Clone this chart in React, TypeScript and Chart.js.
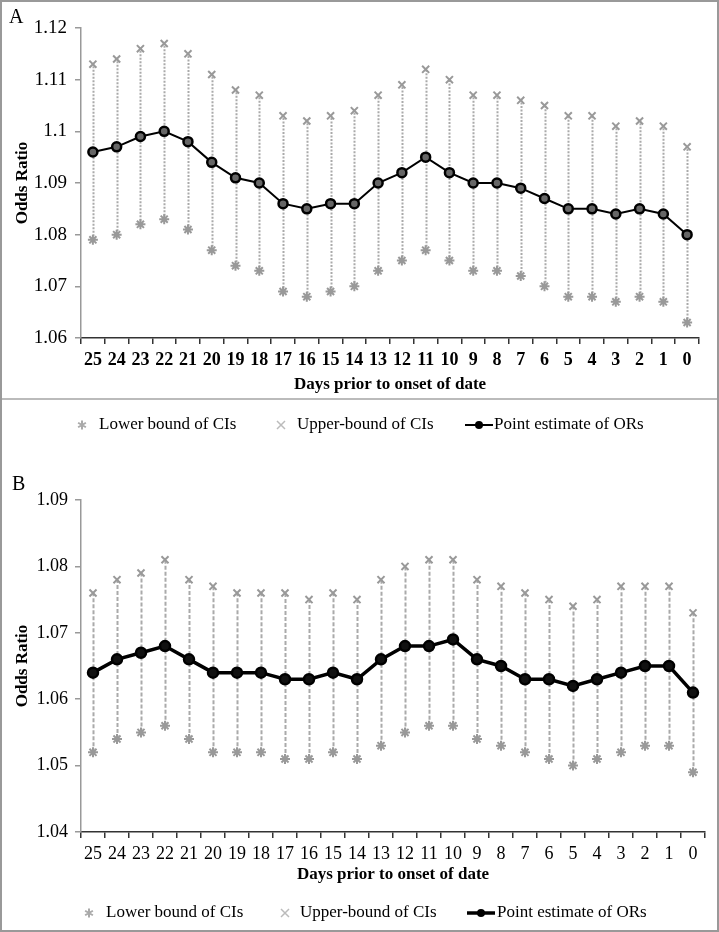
import React, { useEffect, useRef } from 'react';
import { Chart, registerables } from 'chart.js';

Chart.register(...registerables);

const days = ['25', '24', '23', '22', '21', '20', '19', '18', '17', '16', '15', '14', '13', '12', '11', '10', '9', '8', '7', '6', '5', '4', '3', '2', '1', '0'];

const upperA = [1.113, 1.114, 1.116, 1.117, 1.115, 1.111, 1.108, 1.107, 1.103, 1.102, 1.103, 1.104, 1.107, 1.109, 1.112, 1.110, 1.107, 1.107, 1.106, 1.105, 1.103, 1.103, 1.101, 1.102, 1.101, 1.097];
const pointA = [1.096, 1.097, 1.099, 1.100, 1.098, 1.094, 1.091, 1.090, 1.086, 1.085, 1.086, 1.086, 1.090, 1.092, 1.095, 1.092, 1.090, 1.090, 1.089, 1.087, 1.085, 1.085, 1.084, 1.085, 1.084, 1.080];
const lowerA = [1.079, 1.080, 1.082, 1.083, 1.081, 1.077, 1.074, 1.073, 1.069, 1.068, 1.069, 1.070, 1.073, 1.075, 1.077, 1.075, 1.073, 1.073, 1.072, 1.070, 1.068, 1.068, 1.067, 1.068, 1.067, 1.063];

const upperB = [1.076, 1.078, 1.079, 1.081, 1.078, 1.077, 1.076, 1.076, 1.076, 1.075, 1.076, 1.075, 1.078, 1.080, 1.081, 1.081, 1.078, 1.077, 1.076, 1.075, 1.074, 1.075, 1.077, 1.077, 1.077, 1.073];
const pointB = [1.064, 1.066, 1.067, 1.068, 1.066, 1.064, 1.064, 1.064, 1.063, 1.063, 1.064, 1.063, 1.066, 1.068, 1.068, 1.069, 1.066, 1.065, 1.063, 1.063, 1.062, 1.063, 1.064, 1.065, 1.065, 1.061];
const lowerB = [1.052, 1.054, 1.055, 1.056, 1.054, 1.052, 1.052, 1.052, 1.051, 1.051, 1.052, 1.051, 1.053, 1.055, 1.056, 1.056, 1.054, 1.053, 1.052, 1.051, 1.050, 1.051, 1.052, 1.053, 1.053, 1.049];

const yTicksA = [1.06, 1.07, 1.08, 1.09, 1.1, 1.11, 1.12];
const yTicksB = [1.04, 1.05, 1.06, 1.07, 1.08, 1.09];

const legendLabels = ['Lower bound of CIs', 'Upper-bound of CIs', 'Point estimate of ORs'];
const yTitle = 'Odds Ratio';
const xTitle = 'Days prior to onset of date';

const SERIF = '"Liberation Serif", "Times New Roman", serif';

const ciPlugin = {
  id: 'ci',
  beforeDatasetsDraw(chart: any, _args: any, opts: any) {
    const { ctx } = chart;
    const x = chart.scales.x;
    const y = chart.scales.y;
    const lo = chart.data.datasets[0].data as number[];
    const hi = chart.data.datasets[1].data as number[];
    ctx.save();
    ctx.strokeStyle = opts.color;
    ctx.lineWidth = opts.width;
    ctx.setLineDash(opts.dash);
    lo.forEach((l, i) => {
      const px = Math.round(x.getPixelForValue(i)) + 0.5;
      ctx.beginPath();
      ctx.moveTo(px, y.getPixelForValue(l));
      ctx.lineTo(px, y.getPixelForValue(hi[i]));
      ctx.stroke();
    });
    ctx.restore();
  },
};

function drawStar(ctx: CanvasRenderingContext2D, cx: number, cy: number, r: number) {
  ctx.beginPath();
  for (let k = 0; k < 3; k++) {
    const a = (Math.PI / 3) * k + Math.PI / 2;
    ctx.moveTo(cx + r * Math.cos(a), cy + r * Math.sin(a));
    ctx.lineTo(cx - r * Math.cos(a), cy - r * Math.sin(a));
  }
  ctx.stroke();
}

function drawCross(ctx: CanvasRenderingContext2D, cx: number, cy: number, r: number) {
  ctx.beginPath();
  ctx.moveTo(cx - r, cy - r);
  ctx.lineTo(cx + r, cy + r);
  ctx.moveTo(cx + r, cy - r);
  ctx.lineTo(cx - r, cy + r);
  ctx.stroke();
}

const decorPlugin = {
  id: 'decor',
  afterDraw(chart: any, _args: any, opts: any) {
    const { ctx } = chart;
    ctx.save();
    ctx.fillStyle = '#000';
    ctx.font = `20px ${SERIF}`;
    ctx.textBaseline = 'alphabetic';
    ctx.textAlign = 'left';
    ctx.fillText(opts.label, opts.labelX, opts.labelY);

    const ly = opts.legendY;
    const it = opts.items;
    ctx.font = `17px ${SERIF}`;
    ctx.textBaseline = 'middle';
    // lower
    ctx.strokeStyle = '#aaa';
    ctx.lineWidth = 2;
    drawStar(ctx, it[0].x, ly, 4.5);
    ctx.fillStyle = '#000';
    ctx.fillText(legendLabels[0], it[0].textX, ly);
    // upper
    ctx.strokeStyle = '#bbb';
    ctx.lineWidth = 1.5;
    drawCross(ctx, it[1].x, ly, 4);
    ctx.fillText(legendLabels[1], it[1].textX, ly);
    // point
    ctx.strokeStyle = '#000';
    ctx.lineWidth = opts.lineW;
    ctx.beginPath();
    ctx.moveTo(it[2].x1, ly);
    ctx.lineTo(it[2].x2, ly);
    ctx.stroke();
    ctx.beginPath();
    ctx.fillStyle = '#000';
    ctx.arc((it[2].x1 + it[2].x2) / 2, ly, 4, 0, Math.PI * 2);
    ctx.fill();
    ctx.fillText(legendLabels[2], it[2].textX, ly);
    ctx.restore();
  },
};

function fmt(v: any) {
  return String(+Number(v).toFixed(2));
}

function makeConfig(p: any) {
  return {
    type: 'line',
    data: {
      labels: days,
      datasets: [
        {
          label: legendLabels[0],
          data: p.lower,
          showLine: false,
          pointStyle: 'star',
          pointRadius: 5,
          borderColor: '#999',
          backgroundColor: '#999',
          pointBorderWidth: 2,
        },
        {
          label: legendLabels[1],
          data: p.upper,
          showLine: false,
          pointStyle: 'crossRot',
          pointRadius: 5,
          borderColor: '#999',
          backgroundColor: '#999',
          pointBorderWidth: 2,
        },
        {
          label: legendLabels[2],
          data: p.point,
          borderColor: '#000',
          borderWidth: p.lineW,
          pointStyle: 'circle',
          pointRadius: p.pr,
          pointBackgroundColor: p.pfill,
          pointBorderColor: '#000',
          pointBorderWidth: 2.5,
          tension: 0,
        },
      ],
    },
    options: {
      responsive: false,
      animation: false,
      devicePixelRatio: 1,
      events: [],
      layout: { padding: p.padding },
      plugins: {
        legend: { display: false },
        tooltip: { enabled: false },
        ci: p.ci,
        decor: p.decor,
      },
      scales: {
        x: {
          type: 'category',
          offset: true,
          grid: { offset: true, drawOnChartArea: false, drawTicks: true, tickLength: 6, color: '#333', lineWidth: 1.5 },
          border: { color: '#333', width: 1.5 },
          ticks: {
            color: '#000',
            font: { family: SERIF, size: p.xTickSize, weight: p.xTickWeight },
            padding: p.xTickPad,
            maxRotation: 0,
            autoSkip: false,
          },
          title: {
            display: true,
            text: xTitle,
            color: '#000',
            font: { family: SERIF, size: 17, weight: 'bold' },
            padding: { top: 0, bottom: p.xTitlePad },
          },
          afterFit: (s: any) => {
            s.height = p.xHeight;
          },
        },
        y: {
          min: p.yMin,
          max: p.yMax,
          afterBuildTicks: (s: any) => {
            s.ticks = p.yTicks.map((v: number) => ({ value: v }));
          },
          grid: { drawOnChartArea: false, drawTicks: true, tickLength: 6, color: '#999', lineWidth: 1.5 },
          border: { color: '#999', width: 1.5 },
          ticks: {
            color: '#000',
            font: { family: SERIF, size: p.yTickSize },
            padding: p.yTickPad,
            callback: (v: any) => fmt(v),
          },
          title: {
            display: true,
            text: yTitle,
            color: '#000',
            font: { family: SERIF, size: 17, weight: 'bold' },
            padding: { top: 12, bottom: 0 },
          },
          afterFit: (s: any) => {
            s.width = 81;
          },
        },
      },
    },
    plugins: [ciPlugin, decorPlugin],
  };
}

const panelA = {
  lower: lowerA,
  upper: upperA,
  point: pointA,
  yTicks: yTicksA,
  yMin: 1.06,
  yMax: 1.12,
  lineW: 2,
  pr: 4.5,
  pfill: '#666',
  padding: { top: 28, right: 20, bottom: 55, left: 0 },
  xHeight: 62,
  xTickPad: 6,
  xTickSize: 18,
  xTitlePad: 5,
  yTickPad: 8,
  yTickSize: 19,
  xTickWeight: 'bold',
  ci: { color: '#aaa', width: 2, dash: [2, 1.5] },
  decor: {
    label: 'A',
    labelX: 9,
    labelY: 23,
    legendY: 425,
    lineW: 2,
    items: [
      { x: 82, textX: 99 },
      { x: 281, textX: 297 },
      { x1: 465, x2: 493, textX: 494 },
    ],
  },
};

const panelB = {
  lower: lowerB,
  upper: upperB,
  point: pointB,
  yTicks: yTicksB,
  yMin: 1.04,
  yMax: 1.09,
  lineW: 3.5,
  pr: 5,
  pfill: '#111',
  padding: { top: 45, right: 14, bottom: 45, left: 0 },
  xHeight: 55,
  xTickPad: 5,
  xTickSize: 18,
  xTitlePad: 2,
  yTickPad: 7,
  yTickSize: 18,
  xTickWeight: 'normal',
  ci: { color: '#aaa', width: 2, dash: [4, 2] },
  decor: {
    label: 'B',
    labelX: 12,
    labelY: 35,
    legendY: 458,
    lineW: 3.5,
    items: [
      { x: 89, textX: 106 },
      { x: 285, textX: 300 },
      { x1: 467, x2: 495, textX: 497 },
    ],
  },
};

function Panel({ cfg, top, height }: { cfg: any; top: number; height: number }) {
  const ref = useRef<HTMLCanvasElement>(null);
  useEffect(() => {
    if (!ref.current) return;
    const chart = new Chart(ref.current, makeConfig(cfg) as any);
    return () => chart.destroy();
  }, [cfg]);
  return (
    <canvas
      ref={ref}
      width={719}
      height={height}
      style={{ position: 'absolute', left: 0, top, width: 719, height, display: 'block' }}
    />
  );
}

export default function App() {
  return (
    <div style={{ position: 'absolute', left: 0, top: 0, width: 719, height: 932, background: '#fff', overflow: 'hidden' }}>
      <Panel cfg={panelA} top={0} height={455} />
      <Panel cfg={panelB} top={455} height={477} />
      <div style={{ position: 'absolute', left: 0, top: 398, width: 719, height: 2, background: '#bbb' }} />
      <div
        style={{
          position: 'absolute',
          left: 0,
          top: 0,
          width: 719,
          height: 932,
          boxSizing: 'border-box',
          border: '2px solid #999',
          pointerEvents: 'none',
        }}
      />
    </div>
  );
}
